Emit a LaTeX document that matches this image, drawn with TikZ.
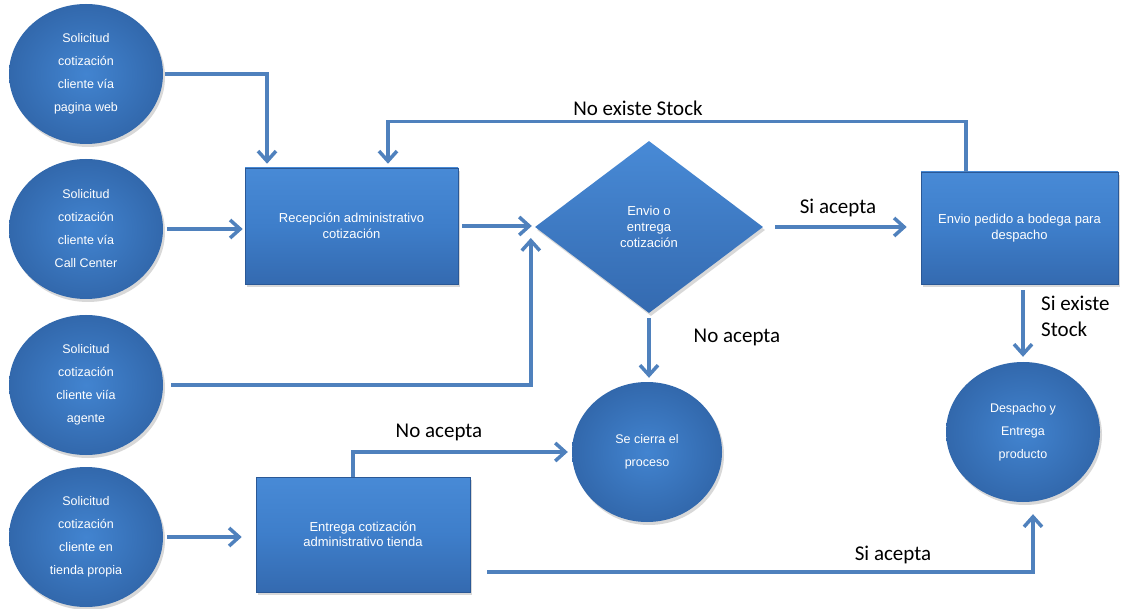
\documentclass[tikz,border=0pt]{standalone}
\usepackage{fontspec}
\newfontfamily\shapefont{Liberation Sans}
\newfontfamily\labelfont{Carlito}
\usetikzlibrary{arrows.meta,shapes.geometric,shadows}

\definecolor{linkblue}{RGB}{79,129,189}
\definecolor{facetop}{RGB}{72,138,214}
\definecolor{facemid}{RGB}{62,126,202}
\definecolor{facebot}{RGB}{52,106,176}
\definecolor{faceedge}{RGB}{42,88,150}
\definecolor{discin}{RGB}{66,132,208}
\definecolor{discout}{RGB}{50,104,172}

\begin{document}
\begin{tikzpicture}[x=1pt,y=-1pt,
  every node/.style={inner sep=0pt},
  soft/.style={drop shadow={opacity=0.3,shadow xshift=2pt,shadow yshift=-3pt}},
  disc/.style={ellipse, soft, minimum width=154pt, minimum height=140pt,
    inner color=discin, outer color=discout, text=white, align=center,
    font=\shapefont\fontsize{12.5}{23}\selectfont},
  panel/.style={rectangle, soft, draw=faceedge, line width=0.6pt,
    top color=facetop, bottom color=facebot, middle color=facemid,
    text=white, align=center, font=\shapefont\fontsize{13}{15.5}\selectfont},
  choice/.style={diamond, soft, minimum width=228pt, minimum height=172pt,
    top color=facetop, bottom color=facebot, text=white, align=center,
    font=\shapefont\fontsize{13}{16}\selectfont},
  conn/.style={draw=linkblue, line width=3.5pt,
    -{Straight Barb[length=10pt,width=18pt,line width=3.5pt]}},
  tag/.style={text=black, font=\labelfont\fontsize{21}{26}\selectfont}
]
\fill[white] (0,0) rectangle (1124,609);
\useasboundingbox (0,0) rectangle (1124,609);

% request channels
\node[disc] (c1) at (86,74)  {Solicitud\\cotización\\cliente vía\\pagina web};
\node[disc] (c2) at (86,229) {Solicitud\\cotización\\cliente vía\\Call Center};
\node[disc] (c3) at (86,385) {Solicitud\\cotización\\cliente viía\\agente};
\node[disc] (c4) at (86,537) {Solicitud\\cotización\\cliente en\\tienda propia};

% process steps
\node[panel, minimum width=213pt, minimum height=116pt] (b1) at (351.5,226)
  {Recepción administrativo\\cotización};
\node[choice] (d) at (649,227) {Envio o\\entrega\\cotización};
\node[panel, minimum width=197pt, minimum height=112pt] (b3) at (1019.5,228)
  {Envio pedido a bodega  para\\despacho};
\node[panel, minimum width=214pt, minimum height=115pt] (b2) at (363,534.5)
  {Entrega cotización\\administrativo tienda};

% outcomes
\node[disc, minimum width=150pt] (c5) at (647,452) {Se cierra el\\proceso};
\node[disc] (c6) at (1023,432) {Despacho y\\Entrega\\producto};

% connectors
\draw[conn, shorten <=2pt, shorten >=4pt] (c1.east) -| ([xshift=-84.5pt]b1.north);
\draw[conn, shorten <=4pt, shorten >=2pt] (c2.east) -- (c2.east -| b1.west);
\draw[conn, shorten <=8pt] (c3.east) -| ([xshift=-4pt,yshift=-11pt]d.west);
\draw[conn, shorten <=4pt, shorten >=3pt] (b1.east) -- (b1.east -| d.west);
\draw[conn, shorten <=12pt, shorten >=14pt] (d.east) -- (d.east -| b3.west);
\draw[conn, shorten >=4pt] ([xshift=-53.5pt]b3.north) -- ++(0,-50)
  -| ([xshift=36.5pt]b1.north);
\draw[conn, shorten <=6pt, shorten >=5pt] (c6.north |- b3.south) -- (c6.north);
\draw[conn, shorten <=5pt, shorten >=4pt] (d.south) -- (d.south |- c5.north);
\draw[conn, shorten >=4pt] ([xshift=-10pt]b2.north) |- (c5.west);
\draw[conn, shorten <=4pt, shorten >=14pt] (c4.east) -- (c4.east -| b2.west);
\draw[conn, shorten >=12pt] ([xshift=17pt,yshift=-37.5pt]b2.east)
  -| ([xshift=10pt]c6.south);

% connector labels
\node[tag] (tNoStock) at (638,108) {No existe Stock};
\node[tag] (tSi1) at (838,208) {Si acepta};
\node[tag, align=left, anchor=west] (tStock) at (1041,316) {Si existe\\Stock};
\node[tag] (tNo1) at (737,337) {No acepta};
\node[tag] (tNo2) at (439,432) {No acepta};
\node[tag] (tSi2) at (893,555) {Si acepta};
\end{tikzpicture}
\end{document}
